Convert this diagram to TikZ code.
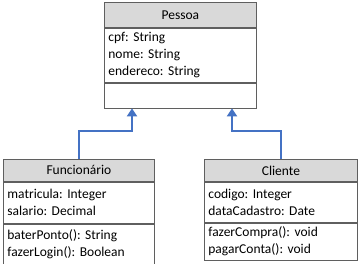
\documentclass[tikz,border=0pt]{standalone}
\usepackage{fontspec}
\setmainfont{Carlito}
\frenchspacing
\usetikzlibrary{positioning,arrows.meta}
\definecolor{headgray}{HTML}{D9D9D9}
\definecolor{boxline}{HTML}{5F5F5F}
\definecolor{linkblue}{HTML}{4472C4}
\tikzstyle{Head} = [
draw=boxline, fill=headgray, line width=0.8pt,
anchor=north west, inner sep=0pt,
font=\fontsize{13.5}{17}\selectfont
]
\tikzstyle{Body} = [
draw=boxline, line width=0.8pt,
anchor=north west, inner xsep=4pt, inner ysep=0pt,
align=left, font=\fontsize{13.5}{17}\selectfont
]
\tikzstyle{Inherit} = [
draw=linkblue, line width=2.6pt,
-{Triangle[width=10pt,length=8pt]}
]

\begin{document}
\begin{tikzpicture}[x=1pt,y=-1pt]
   \useasboundingbox (0,0) rectangle (359,264);
   % Pessoa
   \node [Head, minimum width=152pt, minimum height=25pt] (pessoa) at (104,2) {Pessoa};
   \node [Body, minimum width=152pt, minimum height=54pt, text width=144pt] (pessoa-a) at (pessoa.south west) {cpf: String\\nome: String\\endereco: String};
   \node [Body, minimum width=152pt, minimum height=25pt, text width=144pt] (pessoa-m) at (pessoa-a.south west) {};
   % Funcionario
   \node [Head, minimum width=151pt, minimum height=22pt] (func) at (3,159) {Funcionário};
   \node [Body, minimum width=151pt, minimum height=41pt, text width=143pt] (func-a) at (func.south west) {matricula: Integer\\salario: Decimal};
   \node [Body, minimum width=151pt, minimum height=41pt, text width=143pt] (func-m) at (func-a.south west) {baterPonto(): String\\fazerLogin(): Boolean};
   % Cliente
   \node [Head, minimum width=153pt, minimum height=22pt] (cli) at (204,159) {Cliente};
   \node [Body, minimum width=153pt, minimum height=40pt, text width=145pt] (cli-a) at (cli.south west) {codigo: Integer\\dataCadastro: Date};
   \node [Body, minimum width=153pt, minimum height=37pt, text width=145pt] (cli-m) at (cli-a.south west) {fazerCompra(): void\\pagarConta(): void};

   \coordinate (fbend) at (132,131);
   \coordinate (cbend) at (232,131);
   \draw [Inherit] (func.north) |- (fbend) -- (fbend |- pessoa-m.south);
   \draw [Inherit] (cli.north) |- (cbend) -- (cbend |- pessoa-m.south);
\end{tikzpicture}
\end{document}
